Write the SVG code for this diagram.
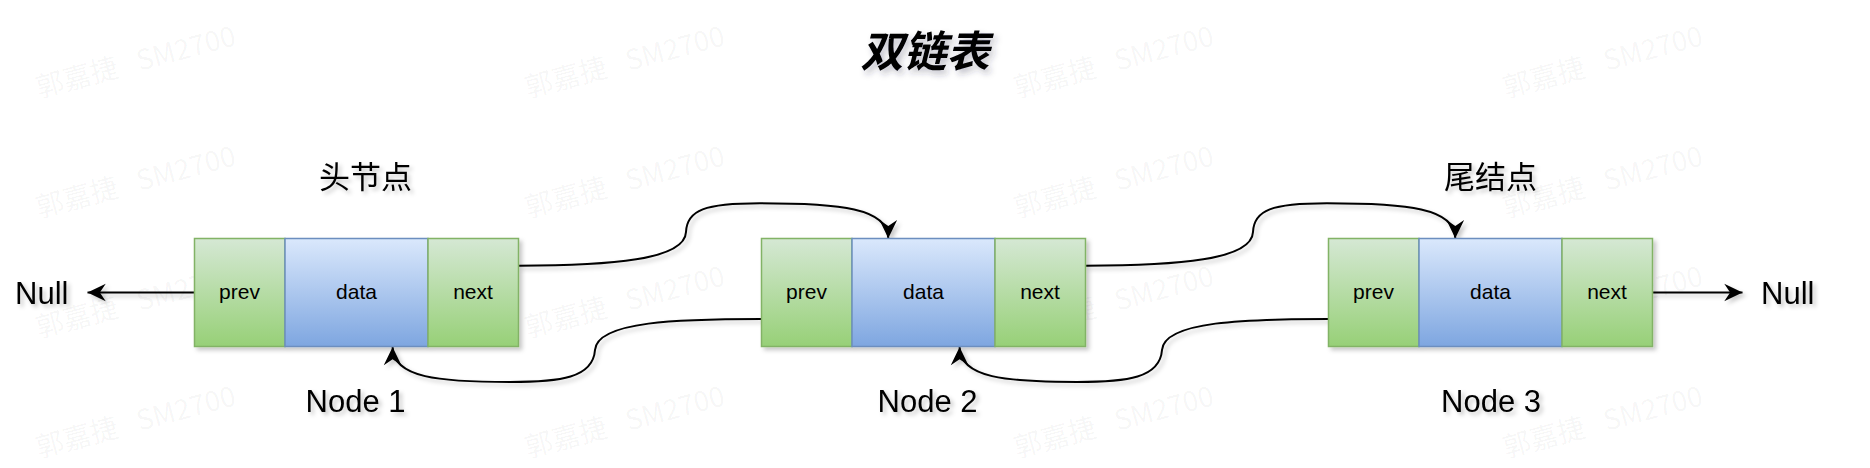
<svg xmlns="http://www.w3.org/2000/svg" width="1870" height="468" viewBox="0 0 1870 468">
<style>
.wm{font-family:"Noto Sans CJK SC","Liberation Sans",sans-serif;font-size:28px;fill:#000;fill-opacity:0.045}
.cell{font-family:"Liberation Sans",Arial,sans-serif;font-size:21px;fill:#000;text-anchor:middle}
.lbl{font-family:"Liberation Sans",Arial,sans-serif;font-size:31px;fill:#000}
.cjk{font-family:"Liberation Sans","Noto Sans CJK SC",sans-serif;font-size:31px;fill:#000;text-anchor:middle}
.title{font-family:"Noto Sans CJK SC",sans-serif;font-size:43px;font-weight:bold;font-style:italic;fill:#000;text-anchor:middle}
.g{fill:url(#gg);stroke:#82b366;stroke-width:1.5}
.b{fill:url(#gb);stroke:#6c8ebf;stroke-width:1.5}
.edge{fill:none;stroke:#000;stroke-width:2}
</style>
<defs>
<linearGradient id="gg" x1="0" y1="0" x2="0" y2="1"><stop offset="0" stop-color="#d5e8d4"/><stop offset="1" stop-color="#97d077"/></linearGradient>
<linearGradient id="gb" x1="0" y1="0" x2="0" y2="1"><stop offset="0" stop-color="#dae8fc"/><stop offset="1" stop-color="#7ea6e0"/></linearGradient>
<filter id="sh" x="-20%" y="-20%" width="140%" height="160%"><feDropShadow dx="3" dy="3" stdDeviation="2" flood-color="#000" flood-opacity="0.22"/></filter>
<filter id="tsh" x="-20%" y="-30%" width="140%" height="170%"><feDropShadow dx="3" dy="4" stdDeviation="3" flood-color="#334" flood-opacity="0.3"/></filter>
<marker id="arr" markerUnits="userSpaceOnUse" markerWidth="20" markerHeight="20" viewBox="-16 -8 17 16" refX="0" refY="0" orient="auto"><path d="M0,0 L-15.5,-7.5 L-10.5,0 L-15.5,7.5 Z" fill="#000"/></marker>
</defs>
<rect width="1870" height="468" fill="#fff"/>
<g id="watermarks">
<text class="wm" transform="translate(39,98) rotate(-15)">郭嘉捷<tspan dx="20">SM2700</tspan></text>
<text class="wm" transform="translate(528,98) rotate(-15)">郭嘉捷<tspan dx="20">SM2700</tspan></text>
<text class="wm" transform="translate(1017,98) rotate(-15)">郭嘉捷<tspan dx="20">SM2700</tspan></text>
<text class="wm" transform="translate(1506,98) rotate(-15)">郭嘉捷<tspan dx="20">SM2700</tspan></text>
<text class="wm" transform="translate(39,218) rotate(-15)">郭嘉捷<tspan dx="20">SM2700</tspan></text>
<text class="wm" transform="translate(528,218) rotate(-15)">郭嘉捷<tspan dx="20">SM2700</tspan></text>
<text class="wm" transform="translate(1017,218) rotate(-15)">郭嘉捷<tspan dx="20">SM2700</tspan></text>
<text class="wm" transform="translate(1506,218) rotate(-15)">郭嘉捷<tspan dx="20">SM2700</tspan></text>
<text class="wm" transform="translate(39,338) rotate(-15)">郭嘉捷<tspan dx="20">SM2700</tspan></text>
<text class="wm" transform="translate(528,338) rotate(-15)">郭嘉捷<tspan dx="20">SM2700</tspan></text>
<text class="wm" transform="translate(1017,338) rotate(-15)">郭嘉捷<tspan dx="20">SM2700</tspan></text>
<text class="wm" transform="translate(1506,338) rotate(-15)">郭嘉捷<tspan dx="20">SM2700</tspan></text>
<text class="wm" transform="translate(39,458) rotate(-15)">郭嘉捷<tspan dx="20">SM2700</tspan></text>
<text class="wm" transform="translate(528,458) rotate(-15)">郭嘉捷<tspan dx="20">SM2700</tspan></text>
<text class="wm" transform="translate(1017,458) rotate(-15)">郭嘉捷<tspan dx="20">SM2700</tspan></text>
<text class="wm" transform="translate(1506,458) rotate(-15)">郭嘉捷<tspan dx="20">SM2700</tspan></text>
</g>
<g id="title"><text class="title" x="925" y="67" filter="url(#tsh)">双链表</text></g>
<g id="connectors" filter="url(#sh)">
<path class="edge" d="M194.5,292.5 L87.5,292.5" marker-end="url(#arr)"/>
<path class="edge" d="M1652.5,292.5 L1742.5,292.5" marker-end="url(#arr)"/>
<path class="edge" d="M518.5,265.7 C610,265.7 685,260 686,232 C687,210 705,203.3 760,203.3 C840,203.3 888.3,208 888.3,238.3" marker-end="url(#arr)"/>
<path class="edge" d="M1085.5,265.7 C1177,265.7 1252,260 1253,232 C1254,210 1272,203.3 1327,203.3 C1407,203.3 1455.3,208 1455.3,238.3" marker-end="url(#arr)"/>
<path class="edge" d="M761.5,319 C680,319 597,321 595,350 C593,378 560,382 510,382 C440,382 392.6,378 392.6,347" marker-end="url(#arr)"/>
<path class="edge" d="M1328.5,319 C1247,319 1164,321 1162,350 C1160,378 1127,382 1077,382 C1007,382 959.6,378 959.6,347" marker-end="url(#arr)"/>
</g>
<g id="node1">
<g filter="url(#sh)">
<rect class="g" x="194.5" y="238.5" width="90.5" height="108"/>
<rect class="b" x="285" y="238.5" width="143" height="108"/>
<rect class="g" x="428" y="238.5" width="90.5" height="108"/>
</g>
<text class="cell" x="239.5" y="299">prev</text>
<text class="cell" x="356.5" y="299">data</text>
<text class="cell" x="473" y="299">next</text>
</g>
<g id="node2">
<g filter="url(#sh)">
<rect class="g" x="761.5" y="238.5" width="90.5" height="108"/>
<rect class="b" x="852" y="238.5" width="143" height="108"/>
<rect class="g" x="995" y="238.5" width="90.5" height="108"/>
</g>
<text class="cell" x="806.5" y="299">prev</text>
<text class="cell" x="923.5" y="299">data</text>
<text class="cell" x="1040" y="299">next</text>
</g>
<g id="node3">
<g filter="url(#sh)">
<rect class="g" x="1328.5" y="238.5" width="90.5" height="108"/>
<rect class="b" x="1419" y="238.5" width="143" height="108"/>
<rect class="g" x="1562" y="238.5" width="90.5" height="108"/>
</g>
<text class="cell" x="1373.5" y="299">prev</text>
<text class="cell" x="1490.5" y="299">data</text>
<text class="cell" x="1607" y="299">next</text>
</g>
<g id="labels" filter="url(#sh)">
<text class="cjk" x="365.5" y="188">头节点</text>
<text class="cjk" x="1490.5" y="188">尾结点</text>
<text class="lbl" x="355.5" y="411.5" text-anchor="middle">Node 1</text>
<text class="lbl" x="927.5" y="411.5" text-anchor="middle">Node 2</text>
<text class="lbl" x="1491" y="411.5" text-anchor="middle">Node 3</text>
<text class="lbl" x="15" y="303.5">Null</text>
<text class="lbl" x="1761" y="303.5">Null</text>
</g>
</svg>
